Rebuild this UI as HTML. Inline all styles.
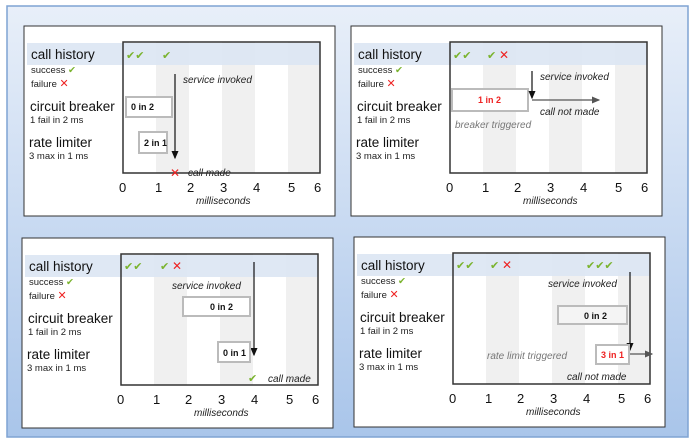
<!DOCTYPE html>
<html><head><style>
html,body{margin:0;padding:0;width:696px;height:445px;overflow:hidden;background:#fff}
svg{display:block}
text{font-family:"Liberation Sans",sans-serif}
.lbl{font-size:13.5px;fill:#111}
.sm{font-size:9.5px;fill:#222}
.tick{font-size:13px;fill:#111}
.it{font-style:italic;font-size:10px;fill:#222}
.git{font-style:italic;font-size:10px;fill:#777}
.bx{font-size:9px;font-weight:bold;fill:#111}
.ck{font-size:11px;fill:#7ab32e}
.x{font-size:12px;fill:#e22}
</style></head><body>
<svg width="696" height="445" viewBox="0 0 696 445">
<defs>
<linearGradient id="bg" x1="0" y1="0" x2="0" y2="1">
<stop offset="0" stop-color="#e8eff9"/><stop offset="1" stop-color="#a9c5ea"/>
</linearGradient>
<marker id="ah" markerWidth="8" markerHeight="8" refX="6" refY="4" orient="auto"><path d="M0,1 L7,4 L0,7 z" fill="#111"/></marker>
<marker id="ahg" markerWidth="8" markerHeight="8" refX="6" refY="4" orient="auto"><path d="M0,1 L7,4 L0,7 z" fill="#555"/></marker>
<g id="base">
<rect x="0" y="0" width="311" height="190" fill="#fff" stroke="#333" stroke-width="1"/>
<rect x="132" y="16" width="33" height="131" fill="#f0f0f0"/>
<rect x="198" y="16" width="33" height="131" fill="#f0f0f0"/>
<rect x="264" y="16" width="32" height="131" fill="#f0f0f0"/>
<rect x="3" y="17" width="293" height="22" fill="#dbe5f3" opacity="0.9"/>
<rect x="99" y="16" width="197" height="131" fill="none" stroke="#333" stroke-width="1.5"/>
<text class="lbl" x="7" y="33">call history</text>
<text class="sm" x="7" y="47">success <tspan fill="#7ab32e">✔</tspan></text>
<text class="sm" x="7" y="61">failure <tspan fill="#e22" font-size="11">✕</tspan></text>
<text class="lbl" x="6" y="85">circuit breaker</text>
<text class="sm" x="6" y="97">1 fail in 2 ms</text>
<text class="lbl" x="5" y="121">rate limiter</text>
<text class="sm" x="5" y="133">3 max in 1 ms</text>
<g class="tick"><text x="95" y="166">0</text><text x="131" y="166">1</text><text x="163" y="166">2</text><text x="196" y="166">3</text><text x="229" y="166">4</text><text x="264" y="166">5</text><text x="290" y="166">6</text></g>
<text class="it" x="172" y="178" font-size="9">milliseconds</text>
</g>
</defs>
<rect x="7" y="6" width="681" height="431" fill="url(#bg)" stroke="#7fa3d3" stroke-width="1.5"/>

<g transform="translate(24,26)">
<use href="#base"/>
<text class="ck" x="102" y="33">✔✔</text><text class="ck" x="138" y="33">✔</text>
<line x1="151" y1="48" x2="151" y2="132" stroke="#111" stroke-width="1.2" marker-end="url(#ah)"/>
<text class="it" x="159" y="57">service invoked</text>
<rect x="102" y="71" width="46" height="20" fill="#fff" stroke="#bbb" stroke-width="2"/>
<text class="bx" x="107" y="84">0 in 2</text>
<rect x="115" y="106" width="28" height="21" fill="#fff" stroke="#bbb" stroke-width="2"/>
<text class="bx" x="120" y="120">2 in 1</text>
<text class="x" x="146" y="151">✕</text>
<text class="it" x="164" y="150">call made</text>
</g>

<g transform="translate(351,26)">
<use href="#base"/>
<text class="ck" x="102" y="33">✔✔</text><text class="ck" x="136" y="33">✔</text><text class="x" x="148" y="33">✕</text>
<text class="it" x="189" y="54">service invoked</text>
<rect x="101" y="63" width="76" height="22" fill="#fff" stroke="#bbb" stroke-width="2"/>
<text class="bx" x="127" y="77" style="fill:#e22">1 in 2</text>
<line x1="181" y1="45" x2="181" y2="72" stroke="#111" stroke-width="1.2" marker-end="url(#ah)"/>
<line x1="181" y1="74" x2="248" y2="74" stroke="#555" stroke-width="1.2" marker-end="url(#ahg)"/>
<text class="it" x="189" y="89">call not made</text>
<text class="git" x="104" y="102">breaker triggered</text>
</g>

<g transform="translate(22,238)">
<use href="#base"/>
<text class="ck" x="102" y="32">✔✔</text><text class="ck" x="138" y="32">✔</text><text class="x" x="150" y="32">✕</text>
<text class="it" x="150" y="51">service invoked</text>
<rect x="161" y="59" width="67" height="19" fill="#fff" stroke="#bbb" stroke-width="2"/>
<text class="bx" x="188" y="72">0 in 2</text>
<line x1="232" y1="24" x2="232" y2="117" stroke="#111" stroke-width="1.2" marker-end="url(#ah)"/>
<rect x="196" y="104" width="32" height="20" fill="#fff" stroke="#bbb" stroke-width="2"/>
<text class="bx" x="201" y="118">0 in 1</text>
<text class="ck" x="226" y="144">✔</text>
<text class="it" x="246" y="144">call made</text>
</g>

<g transform="translate(354,237)">
<use href="#base"/>
<text class="ck" x="102" y="32">✔✔</text><text class="ck" x="136" y="32">✔</text><text class="x" x="148" y="32">✕</text><text class="ck" x="232" y="32">✔✔✔</text>
<text class="it" x="194" y="50">service invoked</text>
<rect x="204" y="69" width="69" height="18" fill="#f4f4f4" stroke="#bbb" stroke-width="2"/>
<text class="bx" x="230" y="82">0 in 2</text>
<line x1="276" y1="35" x2="276" y2="113" stroke="#111" stroke-width="1.2" marker-end="url(#ah)"/>
<line x1="276" y1="117" x2="298" y2="117" stroke="#555" stroke-width="1.2" marker-end="url(#ahg)"/>
<rect x="242" y="108" width="33" height="19" fill="#fff" stroke="#bbb" stroke-width="2"/>
<text class="bx" x="247" y="121" style="fill:#e22">3 in 1</text>
<text class="git" x="133" y="122">rate limit triggered</text>
<text class="it" x="213" y="143">call not made</text>
</g>
</svg>
</body></html>
